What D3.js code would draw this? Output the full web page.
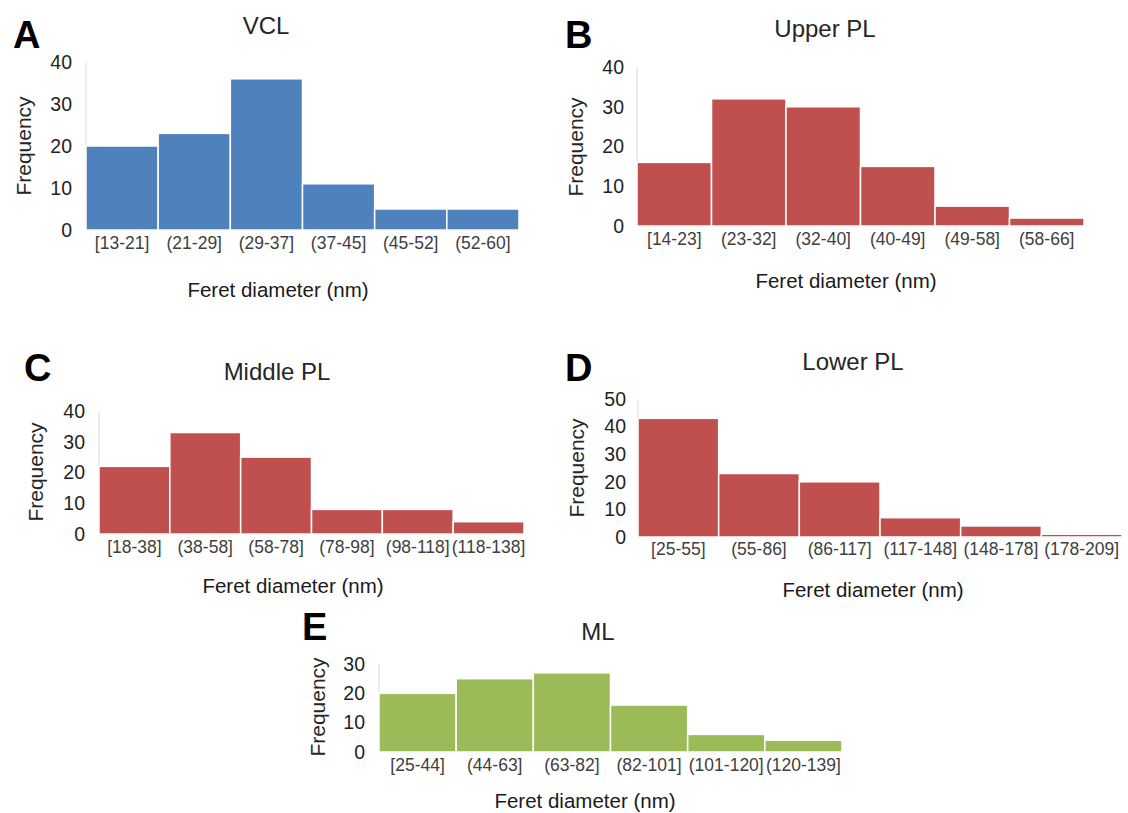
<!DOCTYPE html>
<html>
<head>
<meta charset="utf-8">
<script src="https://cdn.jsdelivr.net/npm/d3@7"></script>
<style>
    body { margin: 0; background: #fff; }
    #chart-area { width: 1128px; height: 813px; }
    text { font-family: Arial, "Liberation Sans", sans-serif; }
</style>
</head>
<body>
<div id="chart-area"></div>
<script>
// bins and counts for each panel
const vclBins = ["[13-21]", "(21-29]", "(29-37]", "(37-45]", "(45-52]", "(52-60]"];
const vclCounts = [20, 23, 36, 11, 5, 5];

const upperBins = ["[14-23]", "(23-32]", "(32-40]", "(40-49]", "(49-58]", "(58-66]"];
const upperCounts = [16, 32, 30, 15, 5, 2];

const middleBins = ["[18-38]", "(38-58]", "(58-78]", "(78-98]", "(98-118]", "(118-138]"];
const middleCounts = [22, 33, 25, 8, 8, 4];

const lowerBins = ["[25-55]", "(55-86]", "(86-117]", "(117-148]", "(148-178]", "(178-209]"];
const lowerCounts = [43, 23, 20, 7, 4, 1];

const mlBins = ["[25-44]", "(44-63]", "(63-82]", "(82-101]", "(101-120]", "(120-139]"];
const mlCounts = [20, 25, 27, 16, 6, 4];

const panelTitles = ["VCL", "Upper PL", "Middle PL", "Lower PL", "ML"];
const panelLetters = ["A", "B", "C", "D", "E"];
const yMaxes = [40, 40, 40, 50, 30];

const xTitle = "Feret diameter (nm)";
const yTitle = "Frequency";

class Histogram {
    constructor(svg, bins, counts, yMax, title, letter, layout, color) {
        this.svg = svg;
        this.bins = bins;
        this.counts = counts;
        this.yMax = yMax;
        this.title = title;
        this.letter = letter;
        this.layout = layout;
        this.color = color;

        this.renderChart();
    }

    renderChart() {
        let vis = this;
        let L = vis.layout;

        vis.g = vis.svg.append("g");

        vis.xScale = d3.scaleBand()
            .domain(vis.bins)
            .range([L.left, L.right])
            .padding(0);

        vis.yScale = d3.scaleLinear()
            .domain([0, vis.yMax])
            .range([L.bottom, L.top]);

        // light axis lines like the excel default
        vis.g.append("line")
            .attr("x1", L.left).attr("x2", L.left)
            .attr("y1", vis.yScale(vis.yMax)).attr("y2", vis.yScale(0))
            .style("stroke", "#d9d9d9")
            .style("stroke-width", 1);

        vis.g.append("line")
            .attr("x1", L.left).attr("x2", L.right)
            .attr("y1", vis.yScale(0)).attr("y2", vis.yScale(0))
            .style("stroke", "#d9d9d9")
            .style("stroke-width", 1);

        // bars
        vis.g.selectAll(".bar")
            .data(vis.counts)
            .enter()
            .append("rect")
            .attr("class", "bar")
            .attr("x", (d, i) => vis.xScale(vis.bins[i]))
            .attr("y", d => vis.yScale(d))
            .attr("width", vis.xScale.bandwidth())
            .attr("height", d => vis.yScale(0) - vis.yScale(d))
            .style("fill", vis.color)
            .style("stroke", "white")
            .style("stroke-width", "1.5px");

        // y axis (labels only)
        let yAxis = d3.axisLeft(vis.yScale)
            .tickValues(d3.range(0, vis.yMax + 1, 10))
            .tickSize(0)
            .tickPadding(L.left - L.yLabelX);

        vis.g.append("g")
            .attr("transform", `translate(${L.left}, 0)`)
            .call(yAxis)
            .call(g => g.select(".domain").remove())
            .selectAll("text")
            .style("font-family", "Arial, 'Liberation Sans', sans-serif")
            .style("font-size", "19.5px")
            .style("fill", "#1f1f1f");

        // x axis (bin labels)
        let xAxis = d3.axisBottom(vis.xScale)
            .tickSize(0)
            .tickPadding(L.xLabelY - L.bottom);

        vis.g.append("g")
            .attr("transform", `translate(0, ${L.bottom})`)
            .call(xAxis)
            .call(g => g.select(".domain").remove())
            .selectAll("text")
            .style("font-family", "Arial, 'Liberation Sans', sans-serif")
            .style("font-size", "17.5px")
            .style("fill", "#404040");

        // titles
        vis.g.append("text")
            .text(vis.title)
            .attr("x", L.titleX)
            .attr("y", L.titleY)
            .attr("text-anchor", "middle")
            .style("font-size", "24px")
            .style("fill", "#262626");

        vis.g.append("text")
            .text(vis.letter)
            .attr("x", L.letterX)
            .attr("y", L.letterY)
            .style("font-size", "38px")
            .style("font-weight", "bold")
            .style("fill", "#000");

        vis.g.append("text")
            .text(xTitle)
            .attr("x", L.xTitleX)
            .attr("y", L.xTitleY)
            .attr("text-anchor", "middle")
            .style("font-size", "20.5px")
            .style("fill", "#1a1a1a");

        vis.g.append("text")
            .text(yTitle)
            .attr("text-anchor", "middle")
            .attr("transform", `translate(${L.yTitleX}, ${L.yTitleY}) rotate(-90)`)
            .style("font-size", "21px")
            .style("fill", "#262626");
    }
}

// panel placement in the 1128x813 page
const layouts = [
    {left: 86, right: 519, top: 62, bottom: 230, yLabelX: 72, xLabelY: 237,
        titleX: 266, titleY: 34, letterX: 13, letterY: 48, xTitleX: 278, xTitleY: 297, yTitleX: 31, yTitleY: 146},
    {left: 637, right: 1084, top: 67, bottom: 226, yLabelX: 624, xLabelY: 233,
        titleX: 825, titleY: 37, letterX: 565, letterY: 48, xTitleX: 846, xTitleY: 288, yTitleX: 583, yTitleY: 147},
    {left: 99, right: 524, top: 411, bottom: 534, yLabelX: 85, xLabelY: 541,
        titleX: 277, titleY: 380, letterX: 24, letterY: 381, xTitleX: 293, xTitleY: 593, yTitleX: 43, yTitleY: 472},
    {left: 638, right: 1122, top: 399, bottom: 537, yLabelX: 626, xLabelY: 543,
        titleX: 853, titleY: 370, letterX: 565, letterY: 381, xTitleX: 873, xTitleY: 597, yTitleX: 584, yTitleY: 468},
    {left: 379, right: 842, top: 664, bottom: 752, yLabelX: 365, xLabelY: 759,
        titleX: 598, titleY: 640, letterX: 302, letterY: 640, xTitleX: 585, xTitleY: 808, yTitleX: 325, yTitleY: 707}
];

const colors = ["#4f81bd", "#c0504d", "#c0504d", "#c0504d", "#9bbb59"];
const allBins = [vclBins, upperBins, middleBins, lowerBins, mlBins];
const allCounts = [vclCounts, upperCounts, middleCounts, lowerCounts, mlCounts];

let svg = d3.select("#chart-area").append("svg")
    .attr("width", 1128)
    .attr("height", 813);

allBins.forEach((bins, i) => {
    new Histogram(svg, bins, allCounts[i], yMaxes[i], panelTitles[i], panelLetters[i], layouts[i], colors[i]);
});
</script>
</body>
</html>
